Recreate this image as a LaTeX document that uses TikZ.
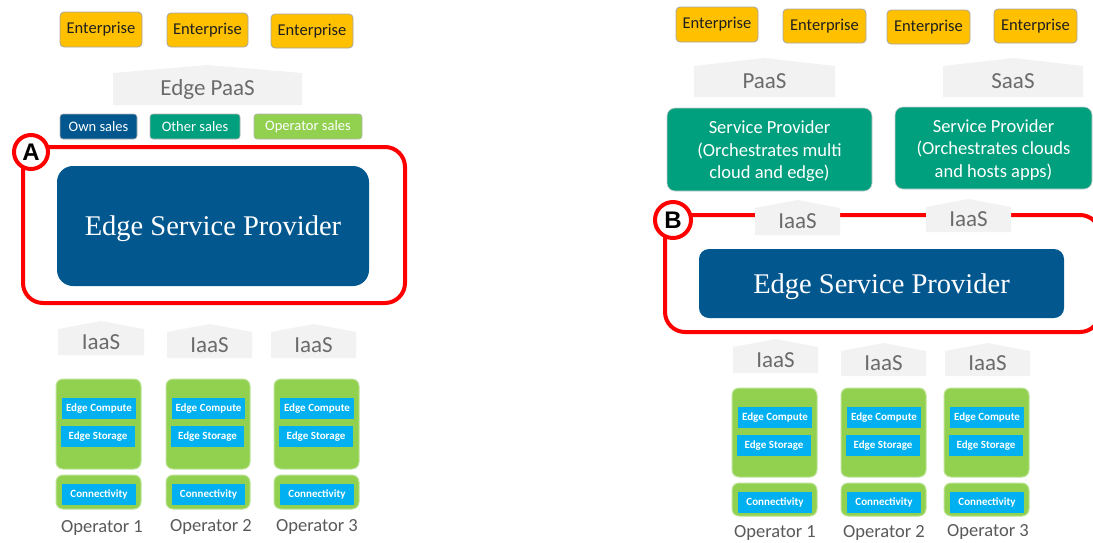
\documentclass[tikz,border=0pt]{standalone}
\usepackage{fontspec}
\setmainfont{Carlito}
\newfontfamily\espfont{Liberation Serif}
\newfontfamily\letterfont{Liberation Sans}
\definecolor{entyellow}{HTML}{FFC000}
\definecolor{espblue}{HTML}{02578F}
\definecolor{teal}{HTML}{00A07F}
\definecolor{opgreen}{HTML}{92D050}
\definecolor{cyanbox}{HTML}{00B0F0}
\definecolor{housegray}{HTML}{F2F2F2}
\definecolor{housetxt}{HTML}{6B6B6B}
\definecolor{optxt}{HTML}{595959}
\definecolor{redring}{HTML}{FF0000}
\tikzset{
  box/.style={inner sep=0pt, rounded corners=3pt},
  entbox/.style={box, fill=entyellow, draw=black!35, line width=0.8pt, rounded corners=4pt,
     font=\fontsize{16.5}{18}\selectfont, text=black!88},
  salesbox/.style={box, draw=black!30, line width=0.6pt, text=white, font=\fontsize{14.5}{16}\selectfont},
  espbox/.style={box, fill=espblue, text=white, font=\espfont\fontsize{28.5}{32}\selectfont},
  spbox/.style={box, fill=teal, draw=black!20, line width=0.6pt, rounded corners=8pt, text=white,
     align=center, font=\fontsize{18.5}{22.5}\selectfont},
  greenbox/.style={box, fill=opgreen, draw=opgreen!60!white, line width=1pt, rounded corners=7pt},
  cyanlbl/.style={box, fill=cyanbox, rounded corners=0pt, text=white, font=\bfseries\fontsize{11}{12}\selectfont},
  housetext/.style={inner sep=0pt, text=housetxt, font=\fontsize{23}{26}\selectfont},
  oplabel/.style={inner sep=0pt, text=optxt, font=\fontsize{18.5}{20}\selectfont},
  ring/.style={draw=redring, line width=4pt, rounded corners=20pt},
  letterring/.style={circle, draw=redring, fill=white, line width=4pt, minimum size=34pt, inner sep=0pt,
     font=\letterfont\bfseries\fontsize{24}{24}\selectfont}
}
% box: style, name, x1, y1, x2, y2, text
\newcommand\boxnode[7]{%
  \node[#1, minimum width={(#5)-(#3)}, minimum height={(#6)-(#4)}] (#2) at ({((#3)+(#5))/2},{((#4)+(#6))/2}) {#7};}
% lowered text that keeps its box size
\newcommand\lowered[2]{\raisebox{-#1}[\height][\depth]{#2}}
% house: name, x1, x2, ypeak, ybottom, text
\newcommand\houseshape[6]{%
  \fill[housegray] (#2,#4+8) -- ({(#2+#3)/2},#4) -- (#3,#4+8) -- (#3,#5) -- (#2,#5) -- cycle;
  \node[housetext] (#1) at ({(#2+#3)/2},{(#4+8+#5)/2}) {#6};}
% operator stack: prefix, x1, x2, ytop, ybottom-of-top, conn-top, conn-bottom, compute-top, conninner-top
\newcommand\opstack[9]{%
  \boxnode{greenbox}{#1top}{#2}{#4}{#3}{#5}{}
  \boxnode{greenbox}{#1conn}{#2}{#6}{#3}{#7}{}
  \boxnode{cyanlbl}{#1comp}{#2+6}{#8}{#3-5}{#8+21}{Edge Compute}
  \boxnode{cyanlbl}{#1stor}{#2+5}{#8+28}{#3-6}{#8+49}{Edge Storage}
  \boxnode{cyanlbl}{#1ci}{#2+6}{#9}{#3-5}{#9+21}{Connectivity}}
\begin{document}
\begin{tikzpicture}[x=1pt,y=-1pt]
\useasboundingbox (0,0) rectangle (1093,542);
\clip (0,0) rectangle (1093,542);

%%%%%%%%%%%%%%%% LEFT PANEL (A)
\boxnode{entbox}{le1}{60}{12}{142}{47}{Enterprise}
\boxnode{entbox}{le2}{167}{13}{248}{47}{Enterprise}
\boxnode{entbox}{le3}{271}{14}{353}{48}{Enterprise}

\houseshape{paasA}{113}{302}{65}{105}{Edge PaaS}

\boxnode{salesbox, fill=espblue}{own}{60}{114}{137}{139}{Own sales}
\boxnode{salesbox, fill=teal}{other}{150}{114}{240}{139}{Other sales}
\boxnode{salesbox, fill=opgreen}{opsales}{254}{114}{362}{139}{Operator sales}

\draw[ring] (23,147) rectangle (405,303);
\boxnode{espbox, rounded corners=16pt}{espA}{57}{166}{369}{286}{\lowered{3pt}{Edge Service Provider}}
\node[letterring] (ringA) at (31,152) {A};

\houseshape{iaasA1}{58}{144}{321}{355}{IaaS}
\houseshape{iaasA2}{167}{252}{324}{358}{IaaS}
\houseshape{iaasA3}{271}{356}{324}{358}{IaaS}

\opstack{la}{56}{141}{379}{469}{475}{509}{398}{484}
\opstack{lb}{166}{250}{379}{469}{475}{509}{398}{484}
\opstack{lc}{274}{359}{379}{469}{475}{509}{398}{484}

\node[oplabel] (lop1) at (102,528) {Operator 1};
\node[oplabel] (lop2) at (211,527) {Operator 2};
\node[oplabel] (lop3) at (317,527) {Operator 3};

%%%%%%%%%%%%%%%% RIGHT PANEL (B)
\boxnode{entbox}{re1}{676}{7}{758}{42}{Enterprise}
\boxnode{entbox}{re2}{783}{9}{866}{43}{Enterprise}
\boxnode{entbox}{re3}{887}{10}{970}{44}{Enterprise}
\boxnode{entbox}{re4}{994}{9}{1077}{43}{Enterprise}

\houseshape{paasB}{694}{835}{58}{97}{PaaS}
\houseshape{saasB}{943}{1083}{58}{97}{SaaS}

\boxnode{spbox}{sp1}{667}{108}{872}{191}{\lowered{2pt}{\parbox{200pt}{\centering Service Provider\\(Orchestrates multi\\cloud and edge)}}}
\boxnode{spbox}{sp2}{895}{107}{1092}{189}{\lowered{2pt}{\parbox{195pt}{\centering Service Provider\\(Orchestrates clouds\\and hosts apps)}}}

\draw[ring] (665,215) rectangle (1100,332);
\houseshape{iaasBt1}{755}{840}{200}{235}{IaaS}
\houseshape{iaasBt2}{926}{1011}{199}{232}{IaaS}
\boxnode{espbox, rounded corners=10pt}{espB}{699}{249}{1064}{318}{\lowered{3pt}{Edge Service Provider}}
\node[letterring, minimum size=36pt] (ringB) at (673,220) {B};

\houseshape{iaasB1}{733}{818}{339}{373}{IaaS}
\houseshape{iaasB2}{841}{926}{343}{376}{IaaS}
\houseshape{iaasB3}{945}{1030}{343}{376}{IaaS}

\opstack{ra}{732}{817}{388}{477}{483}{516}{407}{492}
\opstack{rb}{841}{926}{388}{477}{483}{516}{407}{492}
\opstack{rc}{944}{1029}{388}{477}{483}{516}{407}{492}

\node[oplabel] (rop1) at (775,533) {Operator 1};
\node[oplabel] (rop2) at (884,533) {Operator 2};
\node[oplabel] (rop3) at (988,532) {Operator 3};
\end{tikzpicture}
\end{document}
